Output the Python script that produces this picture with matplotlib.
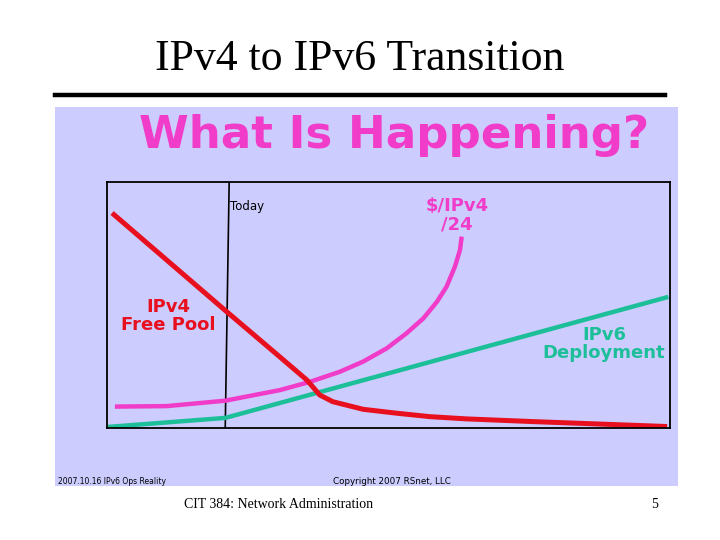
import matplotlib.pyplot as plt
from matplotlib.patches import Rectangle
from matplotlib.lines import Line2D

# values (x: time 0-100, y: relative level 0-100)
pool_x = [0.9, 21.3, 30.7, 35.5, 37.8, 40.1, 45.5, 51.5, 57.4, 63.9, 75.7, 87.6, 99.5]
pool_y = [87.4, 47.2, 28.9, 19.5, 13.4, 10.7, 7.6, 6.0, 4.6, 3.7, 2.6, 1.6, 0.6]

price_x = [1.4, 10.6, 21.0, 30.7, 36.1, 41.4, 45.5, 49.7, 53.2, 56.2,
           58.6, 60.3, 61.8, 62.7, 63.0]
price_y = [8.7, 8.9, 11.1, 15.4, 18.8, 22.9, 27.0, 32.4, 38.5, 44.6,
           51.3, 57.4, 65.6, 72.4, 77.8]

v6_x = [0.0, 21.0, 99.7]
v6_y = [0.4, 4.1, 53.3]

# "Today" marker is drawn slightly slanted on the slide
today_x = [21.7, 21.0]
today_y = [100, 0]

RED = '#E8101E'
PINK = '#F03CC8'
GREEN = '#1DBF98'
BG = '#CCCCFF'
comic = ['DejaVu Sans']
serif = ['Liberation Serif', 'DejaVu Serif']

W, H = 720, 540
fig = plt.figure(figsize=(7.2, 5.4), dpi=100)
fig.patch.set_facecolor('white')

# slide title + rule
fig.text(360 / W, 1 - 59 / H, 'IPv4 to IPv6 Transition', family=serif,
         fontsize=31.5, ha='center', va='center')
fig.add_artist(Line2D([55 / W, 665 / W], [1 - 95 / H, 1 - 95 / H],
                      color='black', lw=3.2))

# lavender picture panel (below the axes)
fig.patches.append(Rectangle((55 / W, 1 - 486 / H), 623 / W, 379 / H,
                             transform=fig.transFigure, facecolor=BG,
                             edgecolor='none', zorder=-5))
fig.text(394 / W, 1 - 136 / H, 'What Is Happening?', family=comic,
         fontweight='bold', fontsize=32.5, color=PINK, ha='center', va='center')
fig.text(58 / W, 1 - 481 / H, '2007.10.16 IPv6 Ops Reality', family=comic,
         fontsize=5.5, ha='left', va='center')
fig.text(333 / W, 1 - 481 / H, 'Copyright 2007 RSnet, LLC', family=comic,
         fontsize=6.3, ha='left', va='center')

# chart
ax = fig.add_axes([107 / W, 1 - 428 / H, 563 / W, 246 / H])
ax.set_facecolor(BG)
ax.set_xlim(0, 100)
ax.set_ylim(0, 100)
ax.set_xticks([])
ax.set_yticks([])
for s in ax.spines.values():
    s.set_linewidth(1.3)

ax.plot(today_x, today_y, color='black', lw=1.2)
ax.text(today_x[0] + 0.2, 90, 'Today', family=comic, fontsize=8.5,
        ha='left', va='center')

ax.plot(v6_x, v6_y, color=GREEN, lw=3.2, solid_capstyle='butt')
ax.plot(price_x, price_y, color=PINK, lw=3.2, solid_capstyle='butt',
        solid_joinstyle='round')
ax.plot(pool_x, pool_y, color=RED, lw=3.6, solid_capstyle='butt',
        solid_joinstyle='round')

ax.text(10.9, 45.5, 'IPv4\nFree Pool', family=comic, fontweight='bold',
        fontsize=13, color=RED, ha='center', va='center', linespacing=1.0)
ax.text(62.2, 86.5, '$/IPv4\n/24', family=comic, fontweight='bold',
        fontsize=13, color=PINK, ha='center', va='center', linespacing=1.0)
ax.text(88.3, 34, 'IPv6\nDeployment', family=comic, fontweight='bold',
        fontsize=13, color=GREEN, ha='center', va='center', linespacing=1.0)

# slide footer
fig.text(279 / W, 1 - 504 / H, 'CIT 384: Network Administration',
         family=serif, fontsize=10, ha='center', va='center')
fig.text(655 / W, 1 - 504 / H, '5', family=serif, fontsize=10,
         ha='center', va='center')

fig.savefig('out.png', dpi=100)
